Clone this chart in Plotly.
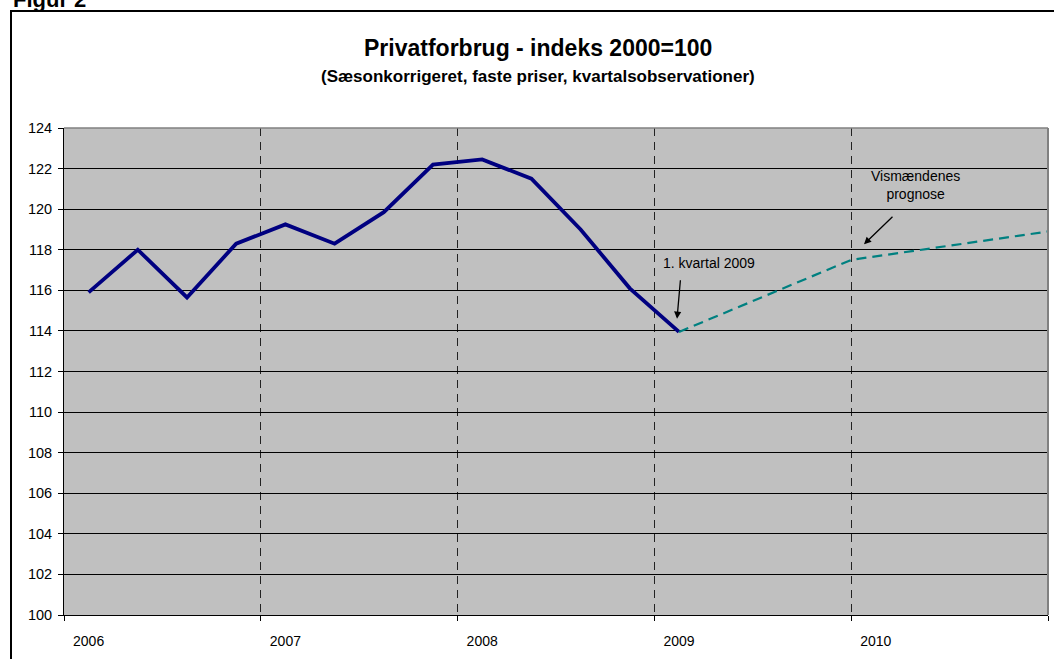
import plotly.graph_objects as go

# ---- data ----
quarters = ["2006K1", "2006K2", "2006K3", "2006K4",
            "2007K1", "2007K2", "2007K3", "2007K4",
            "2008K1", "2008K2", "2008K3", "2008K4",
            "2009K1"]
actual = [115.9, 118.0, 115.65, 118.3,
          119.25, 118.3, 119.85, 122.2,
          122.45, 121.5, 119.0, 116.1,
          113.95]
# forecast points in decimal years (2009 Q1 obs, start 2010, end 2010)
forecast_x = [2009.125, 2010.0, 2011.0]
forecast = [113.95, 117.5, 118.9]
years = [2006, 2007, 2008, 2009, 2010]
year_labels = ["2006", "2007", "2008", "2009", "2010"]


def qx(label):
    y, q = label.split("K")
    return int(y) + (int(q) - 0.5) / 4


actual_x = [qx(q) for q in quarters]

FONT = "Arial, Liberation Sans, sans-serif"

fig = go.Figure()
fig.add_trace(go.Scatter(x=actual_x, y=actual, mode="lines",
                         line=dict(color="#000080", width=3.8),
                         showlegend=False, hoverinfo="skip"))
fig.add_trace(go.Scatter(x=forecast_x, y=forecast, mode="lines",
                         line=dict(color="#008080", width=2.2, dash="10px,6px"),
                         showlegend=False, hoverinfo="skip"))

L, R, T, B = 64, 6, 128, 44
W, H = 1054, 659
pw, ph = W - L - R, H - T - B


def px(x):
    return (x - L) / pw


def py(y):
    return (H - B - y) / ph


fig.update_layout(
    width=W, height=H,
    margin=dict(l=L, r=R, t=T, b=B),
    paper_bgcolor="white",
    plot_bgcolor="#C0C0C0",
    font=dict(family=FONT, color="black", size=14),
    xaxis=dict(
        range=[2006, 2011],
        tickmode="array",
        tickvals=[y + 0.125 for y in years],
        ticktext=year_labels,
        ticks="",
        showgrid=False,
        zeroline=False,
        showline=True, linecolor="black", linewidth=1,
        tickfont=dict(size=14, family=FONT),
        ticklabelstandoff=13,
        minor=dict(tickmode="array", tickvals=years + [2011],
                   ticks="outside", ticklen=5, tickcolor="black", tickwidth=1,
                   showgrid=True, gridcolor="#222222", gridwidth=1,
                   griddash="8px,6px"),
    ),
    yaxis=dict(
        range=[100, 124],
        tickmode="linear", tick0=100, dtick=2,
        ticks="outside", ticklen=5, tickcolor="black",
        showgrid=True, gridcolor="black", gridwidth=1,
        zeroline=False,
        showline=True, linecolor="black", linewidth=1,
        tickfont=dict(size=14.5, family=FONT),
        ticklabelstandoff=3,
    ),
)

# outer chart border
fig.add_shape(type="rect", xref="paper", yref="paper",
              x0=px(11), x1=px(1065), y0=py(675), y1=py(11),
              line=dict(color="black", width=2), layer="above")
# plot area top/right border
fig.add_shape(type="line", xref="paper", yref="paper",
              x0=0, x1=1, y0=1, y1=1,
              line=dict(color="#808080", width=1.5), layer="above")
fig.add_shape(type="line", xref="paper", yref="paper",
              x0=1, x1=1, y0=0, y1=1,
              line=dict(color="#808080", width=2), layer="above")

annots = [
    dict(x=px(11), y=py(14), xref="paper", yref="paper", text="<b>Figur 2</b>",
         showarrow=False, xanchor="left", yanchor="bottom",
         font=dict(size=22, family=FONT)),
    dict(x=px(538), y=py(48), xref="paper", yref="paper",
         text="<b>Privatforbrug - indeks 2000=100</b>",
         showarrow=False, xanchor="center", yanchor="middle",
         font=dict(size=23, family=FONT)),
    dict(x=px(538), y=py(77), xref="paper", yref="paper",
         text="<b>(Sæsonkorrigeret, faste priser, kvartalsobservationer)</b>",
         showarrow=False, xanchor="center", yanchor="middle",
         font=dict(size=17, family=FONT)),
    dict(x=px(709), y=py(263), xref="paper", yref="paper",
         text="1. kvartal 2009", showarrow=False,
         xanchor="center", yanchor="middle", font=dict(size=14, family=FONT)),
    dict(x=px(915), y=py(185), xref="paper", yref="paper",
         text="Vismændenes<br>prognose", showarrow=False,
         xanchor="center", yanchor="middle", font=dict(size=14, family=FONT)),
    # arrows
    dict(x=2009.115, y=114.6, xref="x", yref="y", text="",
         showarrow=True, ax=3.5, ay=-40, arrowhead=2, arrowsize=1.1,
         arrowwidth=1.3, arrowcolor="black", standoff=0),
    dict(x=2010.065, y=118.27, xref="x", yref="y", text="",
         showarrow=True, ax=30, ay=-29, arrowhead=2, arrowsize=1.1,
         arrowwidth=1.3, arrowcolor="black", standoff=0),
]
fig.update_layout(annotations=annots)

fig.write_html("out.html")
